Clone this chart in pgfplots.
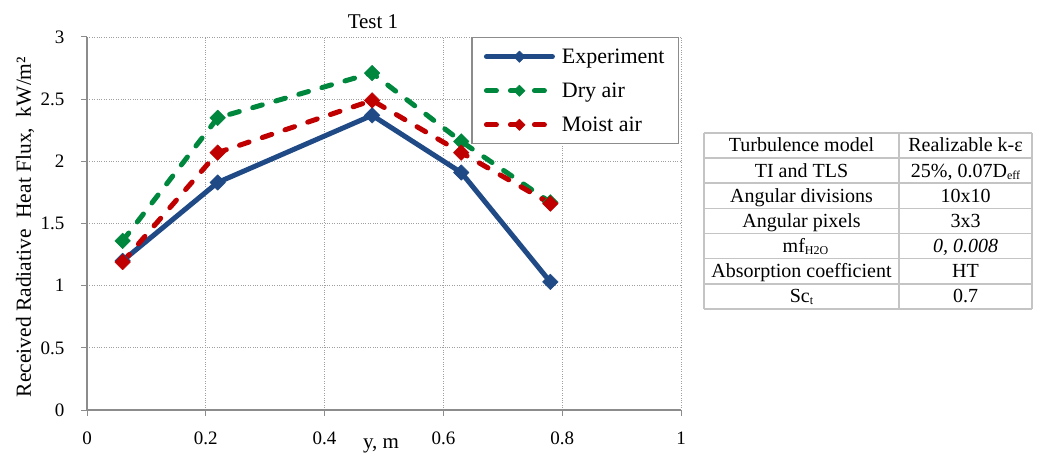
\documentclass[border=0pt]{standalone}
\usepackage{pgfplots}
\pgfplotsset{compat=1.18}
\usepackage{fontspec}
\setmainfont{Liberation Serif}

\definecolor{expblue}{HTML}{1F4A86}
\definecolor{drygreen}{HTML}{00873E}
\definecolor{moistred}{HTML}{C00000}
\definecolor{tablegray}{HTML}{C4C4C4}
\definecolor{axisgray}{HTML}{8C8C8C}

\newcommand{\sub}[1]{\raisebox{-2pt}{\fontsize{12}{12}\selectfont #1}}

\begin{document}
\begin{tikzpicture}[x=1pt,y=1pt]
\path[use as bounding box] (0,0) rectangle (1038,455);

\begin{axis}[
  at={(87pt,45pt)}, anchor=south west,
  scale only axis, width=594pt, height=373pt,
  xmin=0, xmax=1, ymin=0, ymax=3,
  xtick={0,0.2,0.4,0.6,0.8,1},
  ytick={0,0.5,1,1.5,2,2.5,3},
  axis lines*=left,
  axis line style={draw=axisgray, line width=1.2pt},
  tick align=outside,
  major tick length=6pt,
  tick style={draw=axisgray, line width=1pt},
  grid=major,
  major grid style={draw=gray!75, dotted, line width=0.9pt},
  /pgf/number format/assume math mode=true,
  ticklabel style={font=\fontsize{19}{19}\selectfont},
  xticklabel style={anchor=base, yshift=-28pt},
  yticklabel style={anchor=east, xshift=-13pt},
  clip=false,
  legend style={
    at={(rel axis cs:0.997,1)}, anchor=north east,
    draw=axisgray, line width=1.3pt,
    font=\fontsize{22}{22}\selectfont,
    row sep=14pt,
    column sep=5pt,
    inner xsep=12pt, inner ysep=9pt,
    cells={anchor=west},
  },
  legend image code/.code={
    \draw[mark repeat=2, mark phase=2, #1, mark size=4pt]
      plot coordinates {(0pt,0pt) (33pt,0pt) (66pt,0pt)};
  },
]

\addplot[expblue, line width=5pt, line join=round, line cap=round,
  mark=square*, mark size=5.5pt, mark options={solid, rotate=45, line width=0.5pt}]
  coordinates {(0.06,1.20) (0.22,1.83) (0.48,2.37) (0.63,1.91) (0.78,1.03)};
\addlegendentry{Experiment}

\addplot[drygreen, line width=5pt, line join=round, line cap=round,
  dash pattern=on 10pt off 14pt,
  mark=square*, mark size=5.5pt, mark options={solid, rotate=45, line width=0.5pt}]
  coordinates {(0.06,1.36) (0.22,2.35) (0.48,2.71) (0.63,2.16) (0.78,1.67)};
\addlegendentry{Dry air}

\addplot[moistred, line width=5pt, line join=round, line cap=round,
  dash pattern=on 10pt off 14pt,
  mark=square*, mark size=5.5pt, mark options={solid, rotate=45, line width=0.5pt}]
  coordinates {(0.06,1.19) (0.22,2.07) (0.48,2.49) (0.63,2.07) (0.78,1.66)};
\addlegendentry{Moist air}
\end{axis}

% titles and axis labels
\node[anchor=base, font=\fontsize{21}{21}\selectfont] at (373,426) {Test 1};
\node[anchor=base, font=\fontsize{21}{21}\selectfont] at (381,7) {y, m};
\node[rotate=90, font=\fontsize{21.5}{21.5}\selectfont] at (25,228)
  {Received Radiative\ \ Heat Flux,\ \ kW/m²};

% parameter table
\begin{scope}[font=\fontsize{20}{20}\selectfont]
  \foreach \i in {0,...,7} {
    \draw[tablegray, line width=1.6pt] (704,{322-25.14*\i}) -- (1032,{322-25.14*\i});
  }
  \draw[tablegray, line width=1.6pt] (704,322) -- (704,146);
  \draw[tablegray, line width=1.6pt] (899,322) -- (899,146);
  \draw[tablegray, line width=1.6pt] (1032,322) -- (1032,146);
  \foreach \lab/\val [count=\r from 0] in {
      {Turbulence model}/{Realizable k-ε},
      {TI and TLS}/{25\%, 0.07D\sub{eff}},
      {Angular divisions}/{10x10},
      {Angular pixels}/{3x3},
      {\hspace{8pt}mf\sub{H2O}}/{\itshape 0, 0.008},
      {Absorption coefficient}/{HT},
      {Sc\sub{t}}/{0.7}} {
    \node[anchor=base] at (801.5,{322-25.14*\r-19}) {\lab};
    \node[anchor=base] at (965.5,{322-25.14*\r-19}) {\val};
  }
\end{scope}
\end{tikzpicture}
\end{document}
